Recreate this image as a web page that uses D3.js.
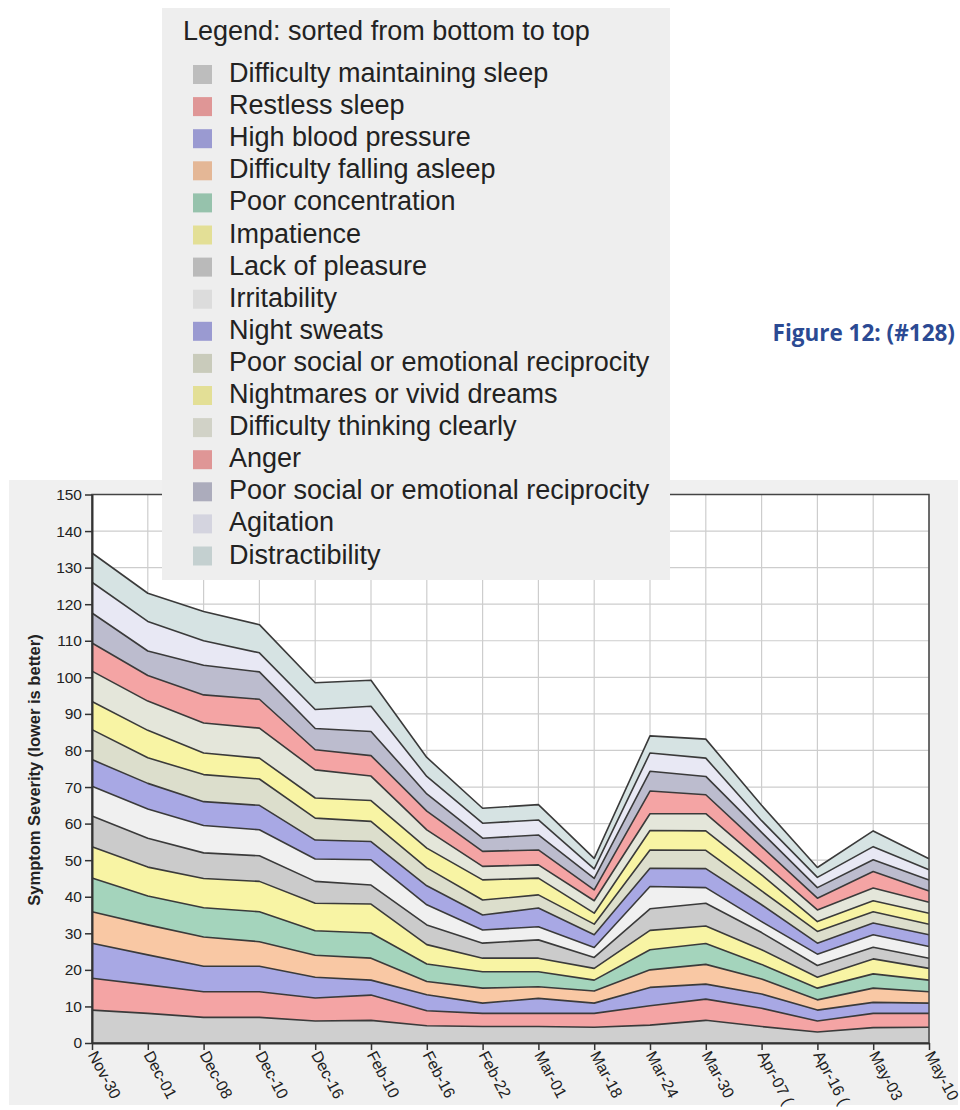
<!DOCTYPE html>
<html>
<head>
<meta charset="utf-8">
<script src="https://cdn.jsdelivr.net/npm/d3@7"></script>
<style>
  html, body { margin: 0; padding: 0; background: #ffffff; }
  svg { display: block; }
</style>
</head>
<body>
<svg id="chart" width="960" height="1110"></svg>
<script>
// ---------------- DATA ----------------
const dates = ["Nov-30","Dec-01","Dec-08","Dec-10","Dec-16","Feb-10","Feb-16","Feb-22","Mar-01","Mar-18","Mar-24","Mar-30","Apr-07","Apr-16","May-03","May-10"];
const dateLabels = ["Nov-30","Dec-01","Dec-08","Dec-10","Dec-16","Feb-10","Feb-16","Feb-22","Mar-01","Mar-18","Mar-24","Mar-30","Apr-07 (","Apr-16 (","May-03","May-10"];
const yTicks = [0,10,20,30,40,50,60,70,80,90,100,110,120,130,140,150];

const seriesNames = [
  "Difficulty maintaining sleep","Restless sleep","High blood pressure","Difficulty falling asleep",
  "Poor concentration","Impatience","Lack of pleasure","Irritability","Night sweats",
  "Poor social or emotional reciprocity","Nightmares or vivid dreams","Difficulty thinking clearly",
  "Anger","Poor social or emotional reciprocity","Agitation","Distractibility"
];
const seriesColors = [
  "#cfcfcf","#f4a4a4","#a8a8e4","#f9c8a4","#a4d4bc","#f8f4a4","#cbcbcb","#f0f0f0",
  "#a8a8e4","#dcdecc","#f8f4a4","#e4e6da","#f4a4a4","#bcbcce","#e8e8f4","#d6e3e3"
];

const difficultyMaintainingSleep = [9.0,8.1,7.0,7.0,6.0,6.2,4.7,4.5,4.5,4.3,4.9,6.2,4.5,3.0,4.2,4.3];
const restlessSleep              = [8.7,7.8,7.0,7.0,6.3,6.9,4.1,3.6,3.6,3.8,5.3,5.8,5.0,3.0,3.9,3.8];
const highBloodPressure          = [9.6,8.2,7.0,7.0,5.7,4.1,4.4,2.8,4.1,2.8,5.0,4.1,3.9,3.0,3.0,2.8];
const difficultyFallingAsleep    = [8.6,8.2,8.0,6.7,6.0,6.0,3.6,4.1,3.2,3.3,4.8,5.4,4.1,2.8,3.9,3.1];
const poorConcentration          = [9.2,7.9,8.0,8.2,6.7,6.9,4.8,4.5,4.1,3.0,5.5,5.7,4.0,3.2,3.9,3.2];
const impatience                 = [8.6,7.9,8.0,8.3,7.5,7.9,5.3,3.7,3.7,3.2,5.3,4.8,4.0,3.0,4.1,3.2];
const lackOfPleasure             = [8.4,7.9,7.0,7.0,6.0,5.2,5.4,4.1,5.0,3.0,5.9,6.2,4.7,3.2,3.2,2.8];
const irritability               = [8.1,8.0,7.5,7.1,6.1,6.9,5.5,3.6,3.6,2.7,6.1,4.3,3.0,3.1,3.4,3.2];
const nightSweats                = [7.3,7.0,6.5,6.7,5.2,5.0,5.2,4.1,5.1,3.5,5.0,5.2,4.6,3.0,3.2,3.2];
const poorSocialReciprocity      = [8.2,7.0,7.4,7.2,6.0,5.5,4.9,4.1,3.6,2.9,5.0,5.0,3.8,3.2,3.1,2.9];
const nightmares                 = [7.7,7.5,5.9,5.7,5.5,5.7,5.4,5.5,4.6,3.0,5.3,5.3,4.4,2.7,3.0,3.0];
const difficultyThinking         = [8.3,8.0,8.2,8.2,7.7,6.7,5.0,3.7,3.6,3.4,4.6,4.7,3.6,3.2,3.5,3.0];
const anger                      = [7.7,7.0,7.7,7.9,5.5,5.6,5.1,4.1,4.1,3.0,6.2,5.2,4.1,3.2,4.5,3.1];
const poorSocialReciprocity2     = [8.2,6.7,8.1,7.5,5.8,6.6,4.7,3.6,4.1,3.1,5.4,5.0,3.9,2.9,3.2,3.0];
const agitation                  = [8.4,8.1,6.7,5.2,5.2,6.9,4.8,4.1,4.1,2.6,5.0,5.0,3.2,2.8,3.6,2.8];
const distractibility            = [8.0,7.7,8.0,7.7,7.3,7.1,5.2,4.1,4.2,2.9,4.7,5.2,4.2,2.7,4.3,3.0];

const seriesValues = [
  difficultyMaintainingSleep, restlessSleep, highBloodPressure, difficultyFallingAsleep,
  poorConcentration, impatience, lackOfPleasure, irritability, nightSweats,
  poorSocialReciprocity, nightmares, difficultyThinking, anger, poorSocialReciprocity2,
  agitation, distractibility
];

// ---------------- CHART ----------------
const svg = d3.select("#chart");
const font = "'Liberation Sans', Arial, Helvetica, sans-serif";

const plot = { left: 92, right: 929, top: 494.5, bottom: 1043 };

// panel background
svg.append("rect").attr("x", 9).attr("y", 480).attr("width", 949).attr("height", 625).attr("fill", "#f0f0f0");
svg.append("rect").attr("x", plot.left).attr("y", plot.top)
  .attr("width", plot.right - plot.left).attr("height", plot.bottom - plot.top).attr("fill", "#ffffff");

const x = d3.scalePoint().domain(dates).range([plot.left, plot.right]);
const y = d3.scaleLinear().domain([0, 150]).range([plot.bottom, plot.top]);

// grid
const grid = svg.append("g");
grid.selectAll("line.h").data(yTicks).join("line")
  .attr("x1", plot.left).attr("x2", plot.right)
  .attr("y1", d => y(d)).attr("y2", d => y(d))
  .attr("stroke", "#cdcdcd").attr("stroke-width", 1.2);
grid.selectAll("line.v").data(dates).join("line")
  .attr("y1", plot.top).attr("y2", plot.bottom)
  .attr("x1", d => x(d)).attr("x2", d => x(d))
  .attr("stroke", "#cdcdcd").attr("stroke-width", 1.2);

// stacked data
const rows = dates.map((d, i) => {
  const r = { date: d };
  seriesValues.forEach((s, k) => { r["s" + k] = s[i]; });
  return r;
});
const keys = seriesValues.map((s, k) => "s" + k);
const stacked = d3.stack().keys(keys)(rows);

const area = d3.area()
  .x(d => x(d.data.date)).y0(d => y(d[0])).y1(d => y(d[1]));
const topLine = d3.line()
  .x(d => x(d.data.date)).y(d => y(d[1]));

const layers = svg.append("g");
layers.selectAll("path.area").data(stacked).join("path")
  .attr("class", "area")
  .attr("d", area)
  .attr("fill", (d, i) => seriesColors[i]);
layers.selectAll("path.line").data(stacked).join("path")
  .attr("class", "line")
  .attr("d", topLine)
  .attr("fill", "none")
  .attr("stroke", "#3a3a3a")
  .attr("stroke-width", 1.6)
  .attr("stroke-linejoin", "round");

// frame
svg.append("rect").attr("x", plot.left).attr("y", plot.top)
  .attr("width", plot.right - plot.left).attr("height", plot.bottom - plot.top)
  .attr("fill", "none").attr("stroke", "#444").attr("stroke-width", 1.5);

// y axis
const yAxis = svg.append("g").attr("transform", `translate(${plot.left},0)`)
  .call(d3.axisLeft(y).tickValues(yTicks).tickSize(7).tickPadding(3).tickSizeOuter(0));
yAxis.select(".domain").attr("stroke", "#333").attr("stroke-width", 2);
yAxis.selectAll(".tick line").attr("stroke", "#333").attr("stroke-width", 1.5);
yAxis.selectAll(".tick text").attr("font-family", font).attr("font-size", 15.5).attr("fill", "#222");

// x axis
const xAxis = svg.append("g").attr("transform", `translate(0,${plot.bottom})`)
  .call(d3.axisBottom(x).tickSize(7).tickSizeOuter(0).tickFormat((d, i) => dateLabels[i]));
xAxis.select(".domain").attr("stroke", "#333").attr("stroke-width", 2);
xAxis.selectAll(".tick line").attr("stroke", "#333").attr("stroke-width", 1.5);
xAxis.selectAll(".tick text")
  .attr("font-family", font).attr("font-size", 16).attr("fill", "#222")
  .attr("text-anchor", "start")
  .attr("x", 0).attr("y", 0).attr("dy", "0.35em")
  .attr("transform", "translate(0,9) rotate(62)");

// y axis title
svg.append("text")
  .attr("transform", "translate(40,770) rotate(-90)")
  .attr("text-anchor", "middle")
  .attr("font-family", font).attr("font-weight", "bold").attr("font-size", 16.5)
  .attr("fill", "#222")
  .text("Symptom Severity (lower is better)");

// legend
const lg = svg.append("g");
lg.append("rect").attr("x", 162).attr("y", 8).attr("width", 508).attr("height", 572).attr("fill", "#eeeeee");
lg.append("text").attr("x", 183).attr("y", 40)
  .attr("font-family", font).attr("font-size", 27).attr("fill", "#222")
  .text("Legend: sorted from bottom to top");
const items = lg.selectAll("g.item").data(seriesNames).join("g")
  .attr("class", "item")
  .attr("transform", (d, i) => `translate(0,${82 + i * 32.1})`);
items.append("rect").attr("x", 193).attr("y", -17).attr("width", 19).attr("height", 19)
  .attr("fill", (d, i) => d3.color(seriesColors[i]).darker(0.25));
items.append("text").attr("x", 229).attr("y", 0)
  .attr("font-family", font).attr("font-size", 27).attr("fill", "#222")
  .text(d => d);

// figure title
svg.append("text").attr("x", 955).attr("y", 341).attr("text-anchor", "end")
  .attr("font-family", "'Open Sans', 'Noto Sans', sans-serif").attr("font-weight", "bold")
  .attr("font-size", 22.5).attr("fill", "#2b4a93")
  .text("Figure 12: (#128)");
</script>
</body>
</html>
